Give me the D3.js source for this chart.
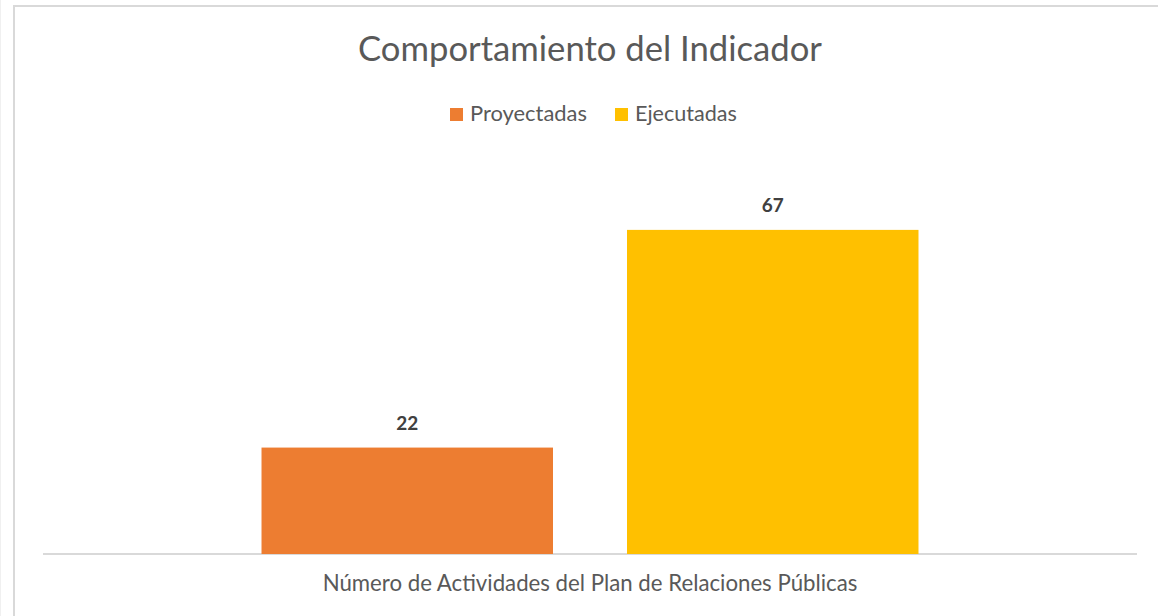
<!DOCTYPE html>
<html><head><meta charset="utf-8">
<script src="https://cdn.jsdelivr.net/npm/d3@7"></script>
<style>html,body{margin:0;padding:0;background:#fff;overflow:hidden}</style>
</head><body>
<svg id="c" width="1158" height="616"></svg>
<script>
const categories = ["Número de Actividades del Plan de Relaciones Públicas"];
const seriesNames = ["Proyectadas", "Ejecutadas"];
const proyectadas = [22];
const ejecutadas = [67];
const seriesColors = ["#ED7D31", "#FFC000"];
const titleText = "Comportamiento del Indicador";

const svg = d3.select("#c");
const FONT = "Lato, 'Open Sans', sans-serif";

function fit(sel, target, base) {
  sel.style("font-size", base + "px");
  const w = sel.node().getComputedTextLength();
  sel.style("font-size", (base * target / w).toFixed(2) + "px");
  return sel;
}

// outer frame
svg.append("line").attr("x1",0.5).attr("x2",0.5).attr("y1",0).attr("y2",616).attr("stroke","#f0f0f0").attr("stroke-width",1);
svg.append("rect").attr("x",14).attr("y",6).attr("width",1160).attr("height",640)
  .attr("fill","#fff").attr("stroke","#D9D9D9").attr("stroke-width",2);

const plot = {left:43, right:1137, top:167, bottom:554};
const y = d3.scaleLinear().domain([0, 80]).range([plot.bottom, plot.top]);
const x0 = d3.scaleBand().domain(categories).range([plot.left, plot.right]).paddingInner(0).paddingOuter(0.3326);
const x1 = d3.scaleBand().domain(seriesNames).range([0, x0.bandwidth()]).paddingInner(0.2025).paddingOuter(0);
const color = d3.scaleOrdinal().domain(seriesNames).range(seriesColors);

const data = categories.map((c, i) => ({cat: c, vals: [
  {s: seriesNames[0], v: proyectadas[i]},
  {s: seriesNames[1], v: ejecutadas[i]}
]}));

// baseline axis
const xAxis = d3.axisBottom(x0).tickSize(0).tickPadding(0);
const ax = svg.append("g").attr("transform", `translate(0,${plot.bottom})`).call(xAxis);
ax.select(".domain").attr("stroke", "#D9D9D9").attr("stroke-width", 2).attr("d", `M${plot.left},0H${plot.right}`);
ax.selectAll(".tick text").remove();

const g = svg.append("g");
const groups = g.selectAll("g.cat").data(data).join("g").attr("class","cat")
  .attr("transform", d => `translate(${x0(d.cat)},0)`);
groups.selectAll("rect").data(d => d.vals).join("rect")
  .attr("x", d => x1(d.s)).attr("width", x1.bandwidth())
  .attr("y", d => y(d.v)).attr("height", d => y(0) - y(d.v))
  .attr("fill", d => color(d.s));
groups.selectAll("text.lbl").data(d => d.vals).join("text").attr("class","lbl")
  .attr("x", d => x1(d.s) + x1.bandwidth()/2).attr("y", d => y(d.v) - 18)
  .attr("text-anchor","middle").attr("fill","#404040")
  .style("font-family", FONT).style("font-weight","bold")
  .text(d => d.v)
  .each(function(){ fit(d3.select(this), 22, 20); });

// category label
categories.forEach(c => {
  const t = svg.append("text").attr("x", x0(c) + x0.bandwidth()/2).attr("y", 591)
    .attr("text-anchor","middle").attr("fill","#595959").style("font-family", FONT).text(c);
  fit(t, 535, 17);
});

// title
const tt = svg.append("text").attr("x", 590).attr("y", 61).attr("text-anchor","middle")
  .attr("fill","#595959").style("font-family", FONT).text(titleText);
fit(tt, 464, 31);

// legend
const legX = [450, 615];
const legW = [117, 102];
seriesNames.forEach((s, i) => {
  svg.append("rect").attr("x", legX[i]).attr("y", 108).attr("width", 13).attr("height", 13).attr("fill", color(s));
  const t = svg.append("text").attr("x", legX[i] + 20).attr("y", 121).attr("fill","#595959")
    .style("font-family", FONT).text(s);
  fit(t, legW[i], 19);
});
</script>
</body></html>
